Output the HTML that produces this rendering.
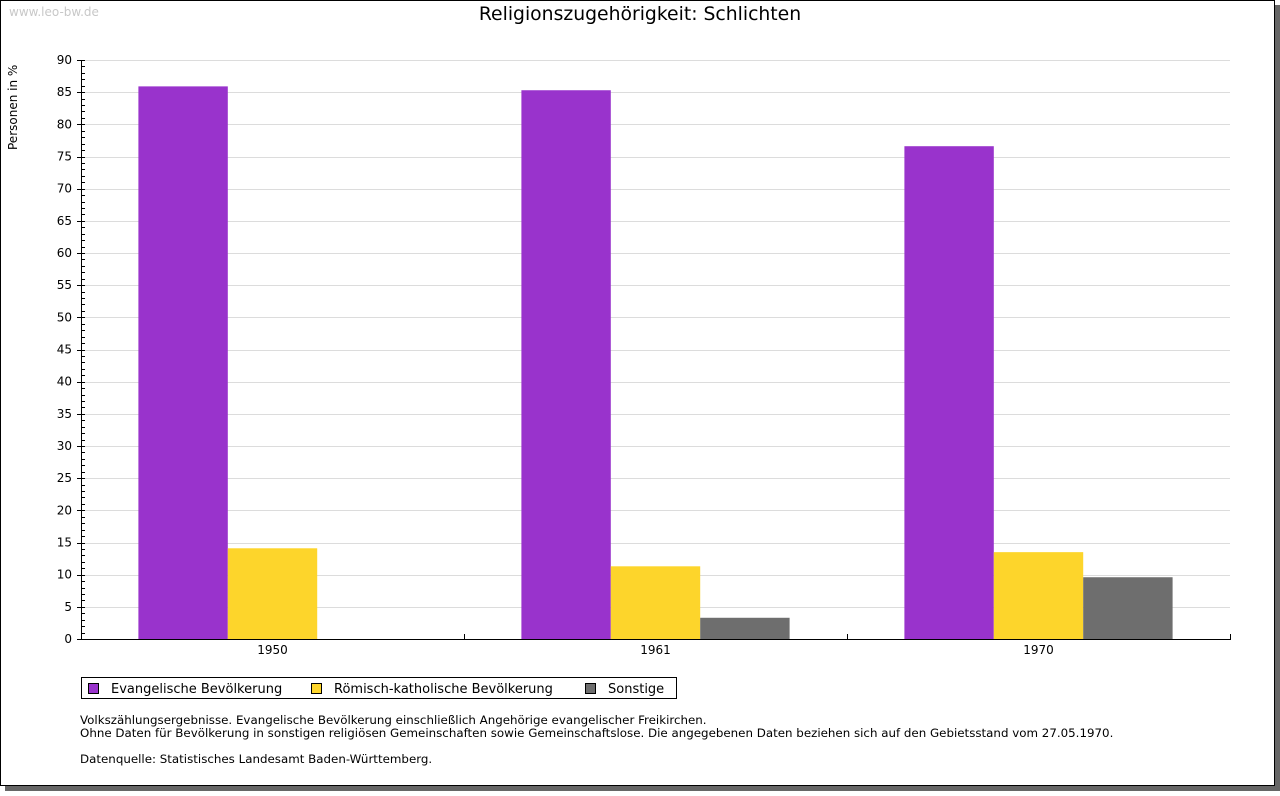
<!DOCTYPE html>
<html><head><meta charset="utf-8"><style>
body{margin:0;background:#fff;}
svg text{font-family:"DejaVu Sans","Liberation Sans",sans-serif;}
</style></head><body>
<svg width="1280" height="791" xmlns="http://www.w3.org/2000/svg">
<rect x="5" y="5" width="1275" height="786" fill="#666"/>
<rect x="0.5" y="0.5" width="1274" height="785" fill="#fff" stroke="#000"/>
<text x="9" y="16" font-size="12" fill="#c8c8c8">www.leo-bw.de</text>
<text x="640" y="20" font-size="18.8" text-anchor="middle">Religionszugehörigkeit: Schlichten</text>
<text transform="translate(17,150) rotate(-90)" font-size="12">Personen in %</text>
<g id="grid"></g><g id="bars"></g><g id="axes"></g>
<g>
<rect x="81.5" y="677.5" width="595" height="21" fill="#fff" stroke="#000"/>
<rect x="88.5" y="683.5" width="10" height="10" fill="#9933cc" stroke="#000"/>
<text x="111" y="693" font-size="13">Evangelische Bevölkerung</text>
<rect x="311.5" y="683.5" width="10" height="10" fill="#fdd52b" stroke="#000"/>
<text x="334" y="693" font-size="13">Römisch-katholische Bevölkerung</text>
<rect x="585.5" y="683.5" width="10" height="10" fill="#6e6e6e" stroke="#000"/>
<text x="608" y="693" font-size="13">Sonstige</text>
</g>
<g font-size="11.85">
<text x="80" y="724">Volkszählungsergebnisse. Evangelische Bevölkerung einschließlich Angehörige evangelischer Freikirchen.</text>
<text x="80" y="737">Ohne Daten für Bevölkerung in sonstigen religiösen Gemeinschaften sowie Gemeinschaftslose. Die angegebenen Daten beziehen sich auf den Gebietsstand vom 27.05.1970.</text>
<text x="80" y="763">Datenquelle: Statistisches Landesamt Baden-Württemberg.</text>
</g>
</svg>
<script>
const categories=["1950","1961","1970"];
const evangelisch=[85.9,85.3,76.6];
const katholisch=[14.1,11.3,13.5];
const sonstige=[0,3.3,9.6];
const yTicks=[0,5,10,15,20,25,30,35,40,45,50,55,60,65,70,75,80,85,90];
const NS="http://www.w3.org/2000/svg";
const x0=81,x1=1230,yTop=60,yBot=639,yMax=90;
const y=v=>yBot-(v/yMax)*(yBot-yTop);
const gw=(x1-x0)/categories.length;
function mk(tag,attrs,parent){const e=document.createElementNS(NS,tag);for(const k in attrs)e.setAttribute(k,attrs[k]);parent.appendChild(e);return e;}
const grid=document.getElementById('grid'),bars=document.getElementById('bars'),axes=document.getElementById('axes');
yTicks.forEach(t=>{
 if(t>0){const l=mk('line',{x1:x0,x2:x1,y1:Math.round(y(t))+0.5,y2:Math.round(y(t))+0.5,stroke:'#dcdcdc'},grid);
 
 }
 const tx=mk('text',{x:72,y:y(t)+4,'font-size':12,'text-anchor':'end'},axes);tx.textContent=t;
 
 
});
for(let v=0;v<=yMax;v++){const yy=Math.round(y(v))+0.5;mk('line',{x1:v%5==0?77:81,x2:85,y1:yy,y2:yy,stroke:'#000'},axes);}
const series=[[evangelisch,'#9933cc','evangelisch'],[katholisch,'#fdd52b','katholisch'],[sonstige,'#6e6e6e','sonstige']];
const bw=89.4,off=(gw-3*bw)/2;
categories.forEach((c,i)=>{
 series.forEach((s,j)=>{
  const v=s[0][i];if(v<=0)return;
  const r=mk('rect',{x:x0+i*gw+off+j*bw,y:y(v),width:bw,height:yBot-y(v),fill:s[1]},bars);
  
  
 });
 const t=mk('text',{x:x0+i*gw+gw/2,y:654,'font-size':12,'text-anchor':'middle'},axes);t.textContent=c;
 
 
 const tx=Math.round(x0+(i+1)*gw)+0.5;mk('line',{x1:tx,x2:tx,y1:yBot-5,y2:yBot,stroke:'#000'},axes);
});
const ya=mk('line',{x1:81.5,x2:81.5,y1:yTop,y2:yBot+1,stroke:'#000'},axes);


const xa=mk('line',{x1:81,x2:x1+1,y1:yBot+0.5,y2:yBot+0.5,stroke:'#000'},axes);


</script>
</body></html>
